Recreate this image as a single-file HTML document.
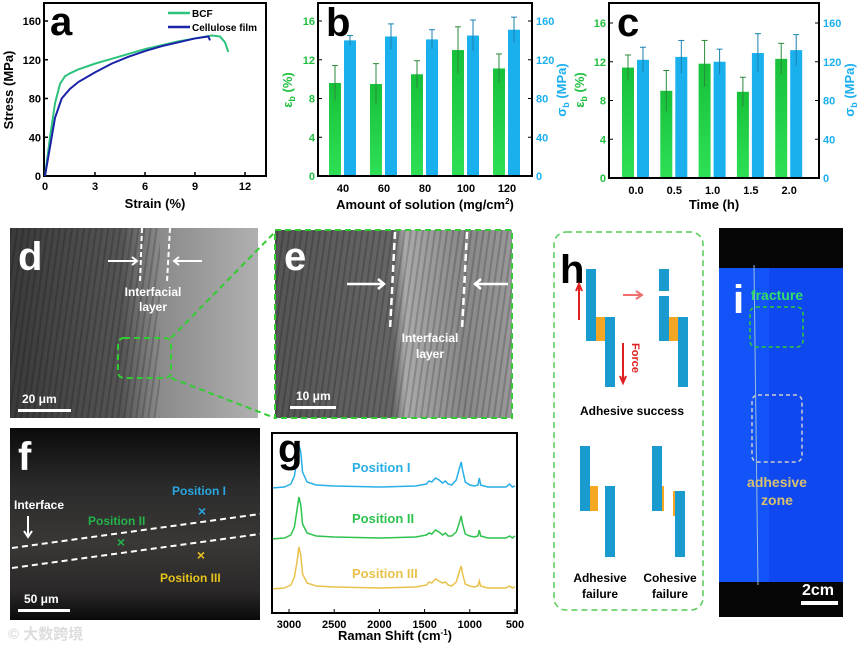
<!DOCTYPE html>
<html><head><meta charset="utf-8"><style>
body{margin:0;background:#fff;width:862px;height:646px;overflow:hidden;font-family:"Liberation Sans","Noto Sans CJK SC",sans-serif}
svg text{font-family:"Liberation Sans","Noto Sans CJK SC",sans-serif;font-weight:bold}
</style></head><body>
<svg id="fig" width="862" height="646" viewBox="0 0 862 646" xmlns="http://www.w3.org/2000/svg">
<defs>
<linearGradient id="gd" x1="0" x2="1"><stop offset="0" stop-color="#3a3a3a"/><stop offset="0.45" stop-color="#555"/><stop offset="0.6" stop-color="#8a8a8a"/><stop offset="1" stop-color="#b0b0b0"/></linearGradient>
<linearGradient id="ge" x1="0" x2="1"><stop offset="0" stop-color="#555"/><stop offset="0.5" stop-color="#666"/><stop offset="0.55" stop-color="#aaa"/><stop offset="0.8" stop-color="#888"/><stop offset="1" stop-color="#999"/></linearGradient>
<linearGradient id="gf" x1="0" y1="0" x2="0" y2="1"><stop offset="0" stop-color="#0b0b0b"/><stop offset="0.3" stop-color="#2a2a2a"/><stop offset="0.6" stop-color="#3a3836"/><stop offset="0.85" stop-color="#2a2828"/><stop offset="1" stop-color="#0a0a0a"/></linearGradient>
<linearGradient id="gbar" x1="0" y1="0" x2="0" y2="1"><stop offset="0" stop-color="#17c13a"/><stop offset="1" stop-color="#2ee055"/></linearGradient>
<pattern id="stripes" width="6" height="40" patternUnits="userSpaceOnUse" patternTransform="rotate(8)"><rect width="2" height="40" fill="#000" opacity="0.18"/></pattern>
</defs>
<g id="pa"></g>
<g id="pb"></g>
<g id="pc"></g>

<g>
<rect x="10" y="228" width="248" height="190" fill="url(#gd)"/>
<rect x="10" y="228" width="150" height="190" fill="url(#stripes)"/>
<text x="18" y="270" font-size="40" fill="#fff">d</text>
<line x1="142" y1="228" x2="140" y2="282" stroke="#fff" stroke-width="2" stroke-dasharray="5,3"/>
<line x1="170" y1="228" x2="167" y2="282" stroke="#fff" stroke-width="2" stroke-dasharray="5,3"/>
<path d="M108 261H136M132 257l5 4-5 4" stroke="#fff" stroke-width="2" fill="none"/>
<path d="M202 261H175M179 257l-5 4 5 4" stroke="#fff" stroke-width="2" fill="none"/>
<text x="153" y="296" font-size="12" fill="#fff" text-anchor="middle">Interfacial</text>
<text x="153" y="311" font-size="12" fill="#fff" text-anchor="middle">layer</text>
<rect x="118" y="338" width="53" height="40" rx="6" fill="none" stroke="#3c3" stroke-width="2" stroke-dasharray="6,4"/>
<line x1="171" y1="338" x2="275" y2="232" stroke="#3c3" stroke-width="2" stroke-dasharray="6,4"/>
<line x1="171" y1="378" x2="275" y2="418" stroke="#3c3" stroke-width="2" stroke-dasharray="6,4"/>
<text x="22" y="403" font-size="12" fill="#fff">20 μm</text>
<rect x="18" y="409" width="53" height="3" fill="#fff"/>
</g>
<g>
<rect x="275" y="230" width="237" height="188" fill="url(#ge)"/>
<rect x="275" y="230" width="237" height="188" fill="url(#stripes)"/>
<rect x="275" y="230" width="237" height="188" fill="none" stroke="#3c3" stroke-width="2" stroke-dasharray="6,4"/>
<text x="284" y="270" font-size="40" fill="#fff">e</text>
<line x1="395" y1="232" x2="390" y2="330" stroke="#fff" stroke-width="2.5" stroke-dasharray="7,4"/>
<line x1="467" y1="232" x2="462" y2="330" stroke="#fff" stroke-width="2.5" stroke-dasharray="7,4"/>
<path d="M347 284H383M378 279l6 5-6 5" stroke="#fff" stroke-width="2.5" fill="none"/>
<path d="M508 284H476M481 279l-6 5 6 5" stroke="#fff" stroke-width="2.5" fill="none"/>
<text x="430" y="342" font-size="12" fill="#fff" text-anchor="middle">Interfacial</text>
<text x="430" y="358" font-size="12" fill="#fff" text-anchor="middle">layer</text>
<text x="296" y="400" font-size="12" fill="#fff">10 μm</text>
<rect x="290" y="406" width="46" height="3" fill="#fff"/>
</g>
<g>
<rect x="10" y="428" width="250" height="192" fill="url(#gf)"/>
<text x="18" y="470" font-size="40" fill="#fff">f</text>
<text x="14" y="509" font-size="12" fill="#fff">Interface</text>
<path d="M28 516V536M24 531l4 6 4-6" stroke="#fff" stroke-width="2" fill="none"/>
<line x1="12" y1="548" x2="260" y2="514" stroke="#fff" stroke-width="2" stroke-dasharray="6,4"/>
<line x1="12" y1="568" x2="260" y2="534" stroke="#fff" stroke-width="2" stroke-dasharray="6,4"/>
<text x="172" y="495" font-size="12" fill="#2aa6e0">Position I</text>
<text x="202" y="516" font-size="14" fill="#2aa6e0" text-anchor="middle">×</text>
<text x="88" y="525" font-size="12" fill="#22b34a">Position II</text>
<text x="121" y="547" font-size="14" fill="#22b34a" text-anchor="middle">×</text>
<text x="201" y="560" font-size="14" fill="#e6c21d" text-anchor="middle">×</text>
<text x="160" y="582" font-size="12" fill="#e6c21d">Position III</text>
<text x="24" y="603" font-size="12" fill="#fff">50 μm</text>
<rect x="18" y="609" width="52" height="3" fill="#fff"/>
<text x="8" y="639" font-size="15" fill="#ddd" font-weight="normal">© 大数跨境</text>
</g>
<g id="pg"></g>
<g>
<rect x="554" y="232" width="149" height="378" rx="12" fill="none" stroke="#5c5" stroke-width="1.5" stroke-dasharray="6,4"/>
<text x="560" y="283" font-size="40" fill="#000">h</text>
<rect x="586" y="269" width="10" height="72" fill="#1a9bd0"/><rect x="596" y="317" width="9" height="24" fill="#f5a623"/><rect x="605" y="317" width="10" height="70" fill="#1a9bd0"/>
<path d="M579 320V285M576 291l3-7 3 7" stroke="#e02020" stroke-width="2" fill="none"/>
<path d="M623 343V382M620 376l3 7 3-7" stroke="#e02020" stroke-width="2" fill="none"/>
<text transform="translate(632,343) rotate(90)" font-size="11" fill="#e02020">Force</text>
<path d="M623 295H641M636 291l6 4-6 4" stroke="#f07070" stroke-width="2" fill="none"/>
<rect x="659" y="269" width="10" height="22" fill="#1a9bd0"/><rect x="659" y="296" width="10" height="45" fill="#1a9bd0"/><rect x="669" y="317" width="9" height="24" fill="#f5a623"/><rect x="678" y="317" width="10" height="70" fill="#1a9bd0"/>
<text x="632" y="415" font-size="12" fill="#000" text-anchor="middle">Adhesive success</text>
<rect x="580" y="446" width="10" height="65" fill="#1a9bd0"/><rect x="590" y="486" width="8" height="25" fill="#f5a623"/><rect x="605" y="486" width="10" height="71" fill="#1a9bd0"/>
<rect x="652" y="446" width="10" height="65" fill="#1a9bd0"/><rect x="662" y="486" width="2" height="25" fill="#f5a623"/><rect x="675" y="491" width="10" height="66" fill="#1a9bd0"/><rect x="673" y="491" width="2" height="25" fill="#f5a623"/>
<text x="600" y="582" font-size="12" fill="#000" text-anchor="middle">Adhesive</text>
<text x="600" y="598" font-size="12" fill="#000" text-anchor="middle">failure</text>
<text x="670" y="582" font-size="12" fill="#000" text-anchor="middle">Cohesive</text>
<text x="670" y="598" font-size="12" fill="#000" text-anchor="middle">failure</text>
</g>
<g>
<rect x="719" y="228" width="124" height="389" fill="#050505"/>
<rect x="719" y="268" width="124" height="314" fill="#1048f0"/>
<rect x="719" y="268" width="50" height="314" fill="#1560ff" opacity="0.5"/>
<line x1="754" y1="265" x2="758" y2="585" stroke="#9bd" stroke-width="1"/>
<text x="733" y="313" font-size="40" fill="#fff">i</text>
<text x="777" y="300" font-size="14" fill="#33dd66" text-anchor="middle">fracture</text>
<rect x="750" y="307" width="53" height="40" rx="6" fill="none" stroke="#3c3" stroke-width="1.5" stroke-dasharray="4,3"/>
<rect x="752" y="395" width="50" height="67" rx="6" fill="none" stroke="#ccc" stroke-width="1.5" stroke-dasharray="4,3"/>
<text x="777" y="487" font-size="14" fill="#d8c070" text-anchor="middle">adhesive</text>
<text x="777" y="505" font-size="14" fill="#d8c070" text-anchor="middle">zone</text>
<text x="818" y="595" font-size="16" fill="#fff" text-anchor="middle" font-family="Liberation Serif,serif">2cm</text>
<rect x="801" y="601" width="37" height="4" fill="#fff"/>
</g>
</svg>
<script>
const NS="http://www.w3.org/2000/svg";
function mk(p,t,a,txt){const e=document.createElementNS(NS,t);for(const k in a)e.setAttribute(k,a[k]);if(txt!==undefined)e.textContent=txt;p.appendChild(e);return e;}

// ---- Panel a data ----
const bcfStrain=[0,0.3,0.6,0.9,1.2,1.5,2,3,4,5,6,7,8,9,10,10.5,10.8,11];
const bcfStress=[0,40,75,95,103,106,110,116,121,126,131,135,139,142,145,144,138,128];
const cfStrain=[0,0.3,0.6,1,1.5,2,3,4,5,6,7,8,9,9.8,9.9];
const cfStress=[0,30,60,80,90,97,107,116,123,129,134,138,142,144,140];
const aXTicks=[0,3,6,9,12];
const aYTicks=[0,40,80,120,160];

// ---- Panel b data ----
const bCats=["40","60","80","100","120"];
const bStrain=[9.6,9.5,10.5,13.0,11.1];
const bStrainErr=[1.8,2.1,1.4,2.4,1.5];
const bStress=[140,144,141,145,151];
const bStressErr=[5,13,10,16,13];

// ---- Panel c data ----
const cCats=["0.0","0.5","1.0","1.5","2.0"];
const cStrain=[11.4,9.0,11.8,8.9,12.3];
const cStrainErr=[1.3,2.1,2.4,1.5,1.6];
const cStress=[122,125,120,129,132];
const cStressErr=[13,17,13,20,16];

const leftTicks=[0,4,8,12,16];
const rightTicks=[0,40,80,120,160];

// ---- Panel g data (Raman) ----
const ramanShift=[3200,3050,2980,2940,2910,2890,2870,2850,2800,2700,2500,2000,1600,1480,1450,1420,1380,1340,1300,1270,1240,1200,1150,1120,1095,1080,1050,1000,950,910,895,880,800,600,560,530,500];
const ramanI=[2,3,6,14,32,45,38,18,8,5,4,3,4,6,9,8,12,10,7,9,6,5,10,20,28,20,8,5,4,5,12,5,3,3,6,3,4];
const ramanII=[2,3,6,14,32,44,36,17,8,5,4,3,4,6,8,7,11,9,6,8,5,5,9,17,25,17,7,5,4,5,11,5,3,3,5,3,5];
const ramanIII=[2,3,6,14,30,44,36,17,8,5,4,3,4,6,9,8,12,10,8,9,6,5,9,18,25,17,7,5,4,5,10,5,3,3,5,3,4];
const ramanLabels=["Position  I","Position  II","Position  III"];

// Panel a
(function(){
 const g=document.getElementById('pa');
 const X0=45,X1=245,Y0=176,Y1=21,L=44,R=266,T=3;
 const sx=v=>X0+(v-0)/(12-0)*(X1-X0), sy=v=>Y0-(v/160)*(Y0-Y1);
 mk(g,'rect',{x:L,y:T,width:R-L,height:Y0-T,fill:'none',stroke:'#000','stroke-width':2});
 aXTicks.forEach(t=>{mk(g,'line',{x1:sx(t),x2:sx(t),y1:Y0,y2:Y0-4,stroke:'#000','stroke-width':1.5});const e=mk(g,'text',{x:sx(t),y:Y0+14,'font-size':11,'text-anchor':'middle'},t);});
 aYTicks.forEach(t=>{mk(g,'line',{x1:L,x2:L+4,y1:sy(t),y2:sy(t),stroke:'#000','stroke-width':1.5});const e=mk(g,'text',{x:L-3,y:sy(t)+4,'font-size':11,'text-anchor':'end'},t);});
 const xt=mk(g,'text',{x:155,y:208,'font-size':13,'text-anchor':'middle'},'Strain (%)');
 const yt=mk(g,'text',{transform:'translate(13,90) rotate(-90)','font-size':13,'text-anchor':'middle'},'Stress (MPa)');
 mk(g,'text',{x:50,y:35,'font-size':40},'a');
 const l1=mk(g,'polyline',{points:bcfStrain.map((s,i)=>sx(s)+','+sy(bcfStress[i])).join(' '),fill:'none',stroke:'#2ec27e','stroke-width':2});
 
 const l2=mk(g,'polyline',{points:cfStrain.map((s,i)=>sx(s)+','+sy(cfStress[i])).join(' '),fill:'none',stroke:'#1a22a8','stroke-width':2});
 
 mk(g,'line',{x1:168,x2:190,y1:13,y2:13,stroke:'#2ec27e','stroke-width':2.5});
 const t1=mk(g,'text',{x:192,y:17,'font-size':10},'BCF');
 mk(g,'line',{x1:168,x2:190,y1:27,y2:27,stroke:'#1a22a8','stroke-width':2.5});
 const t2=mk(g,'text',{x:192,y:31,'font-size':10},'Cellulose film');
})();

function barPanel(id,box,cats,s1,e1,s2,e2,xlabel,letter,leftTitleX,rightTitleX){
 const g=document.getElementById(id);
 const {L,R,T,B,Ytop,x0,dx}=box;
 const syL=v=>B-v/16*(B-Ytop), syR=v=>B-v/160*(B-Ytop);
 cats.forEach((c,i)=>{
  const cx=x0+i*dx;
  const b1=mk(g,'rect',{x:cx-14,y:syL(s1[i]),width:12,height:B-syL(s1[i]),fill:'url(#gbar)'});
  
  const b2=mk(g,'rect',{x:cx+1,y:syR(s2[i]),width:12,height:B-syR(s2[i]),fill:'#1ab0ee'});
  
  [[cx-8,syL(s1[i]-e1[i]),syL(s1[i]+e1[i]),'#2a8a3a'],[cx+7,syR(s2[i]-e2[i]),syR(s2[i]+e2[i]),'#1a80b0']].forEach(([x,ya,yb,col])=>{
   mk(g,'line',{x1:x,x2:x,y1:ya,y2:yb,stroke:col,'stroke-width':1});
   mk(g,'line',{x1:x-3,x2:x+3,y1:yb,y2:yb,stroke:col,'stroke-width':1});
  });
  const t=mk(g,'text',{x:cx,y:B+16,'font-size':11,'text-anchor':'middle'},c);
 });
 mk(g,'rect',{x:L,y:T,width:R-L,height:B-T,fill:'none',stroke:'#000','stroke-width':2});
 leftTicks.forEach(t=>{mk(g,'line',{x1:L,x2:L+4,y1:syL(t),y2:syL(t),stroke:'#000'});mk(g,'text',{x:L-3,y:syL(t)+4,'font-size':11,'text-anchor':'end',fill:'#22c040'},t);});
 rightTicks.forEach(t=>{mk(g,'line',{x1:R,x2:R-4,y1:syR(t),y2:syR(t),stroke:'#000'});mk(g,'text',{x:R+4,y:syR(t)+4,'font-size':11,fill:'#1ab0ee'},t);});
 const xt=mk(g,'text',{x:(L+R)/2,y:209,'font-size':13,'text-anchor':'middle'});xt.innerHTML=xlabel;
 
 const lt=mk(g,'text',{transform:`translate(${leftTitleX},90) rotate(-90)`,'font-size':13,'text-anchor':'middle',fill:'#22c040'});lt.innerHTML='ε<tspan font-size="9" dy="3">b</tspan><tspan dy="-3"> (%)</tspan>';
 
 const rt=mk(g,'text',{transform:`translate(${rightTitleX},90) rotate(-90)`,'font-size':13,'text-anchor':'middle',fill:'#1ab0ee'});rt.innerHTML='σ<tspan font-size="9" dy="3">b</tspan><tspan dy="-3"> (MPa)</tspan>';
 
 mk(g,'text',{x:L+8,y:T+33,'font-size':40},letter);
}
barPanel('pb',{L:318,R:532,T:3,B:176,Ytop:21,x0:343,dx:41},bCats,bStrain,bStrainErr,bStress,bStressErr,'Amount of solution (mg/cm<tspan font-size="8" dy="-5">2</tspan><tspan dy="5">)</tspan>','b',292,566);
barPanel('pc',{L:609,R:819,T:3,B:178,Ytop:23,x0:636,dx:38.3},cCats,cStrain,cStrainErr,cStress,cStressErr,'Time (h)','c',584,854);

// Panel g
(function(){
 const g=document.getElementById('pg');
 const L=272,R=517,T=433,B=613;
 const sx=v=>289+(3000-v)/2500*226;
 const bases=[490,541,591],cols=['#29aee6','#2ec24e','#e8c24a'],lab=[18,18,13];
 [ramanI,ramanII,ramanIII].forEach((arr,k)=>{
  const sy=v=>bases[k]-v;
  const p=mk(g,'polyline',{points:ramanShift.map((s,i)=>sx(s)+','+sy(arr[i])).join(' '),fill:'none',stroke:cols[k],'stroke-width':1.5});
  
  const t=mk(g,'text',{x:352,y:bases[k]-lab[k],'font-size':13,fill:cols[k]},ramanLabels[k]);
  
 });
 mk(g,'rect',{x:L,y:T,width:R-L,height:B-T,fill:'none',stroke:'#000','stroke-width':2});
 [3000,2500,2000,1500,1000,500].forEach(t=>{mk(g,'line',{x1:sx(t),x2:sx(t),y1:B,y2:B-4,stroke:'#000'});mk(g,'text',{x:sx(t),y:B+15,'font-size':11,'text-anchor':'middle'},t);});
 const xt=mk(g,'text',{x:395,y:640,'font-size':13,'text-anchor':'middle'});xt.innerHTML='Raman Shift (cm<tspan font-size="8" dy="-5">-1</tspan><tspan dy="5">)</tspan>';
 
 mk(g,'text',{x:278,y:462,'font-size':40},'g');
})();
</script>
</body></html>
